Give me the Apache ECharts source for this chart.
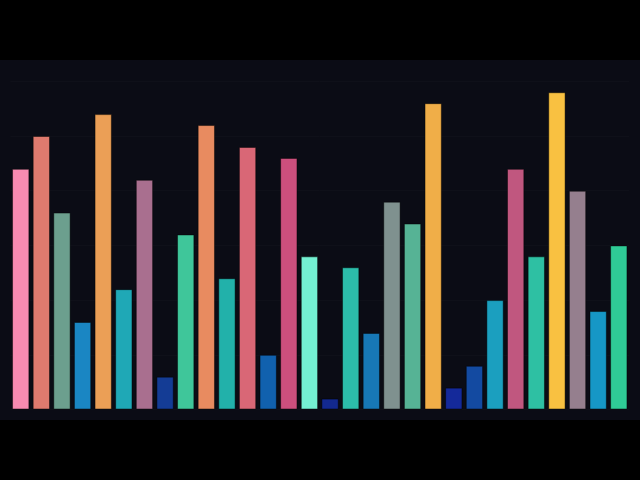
<!DOCTYPE html>
<html>
<head>
<meta charset="utf-8">
<script src="https://cdn.jsdelivr.net/npm/echarts@6/dist/echarts.min.js"></script>
<style>
  html, body { margin: 0; padding: 0; background: #000; }
  #chart { position: absolute; left: 0; top: 60px; width: 640px; height: 360px; }
</style>
</head>
<body>
<div id="chart"></div>
<script>
// values (one bar per slot)
const slots = ['1','2','3','4','5','6','7','8','9','10','11','12','13','14','15',
               '16','17','18','19','20','21','22','23','24','25','26','27','28','29','30'];
const values = [22, 25, 18, 8, 27, 11, 21, 3, 16, 26, 12, 24, 5, 23, 14,
                1, 13, 7, 19, 17, 28, 2, 4, 10, 22, 14, 29, 20, 9, 15];
const barColors = [
  '#f78bb1', '#df7a6e', '#6c9f8e', '#1a86c3', '#eb9f56', '#1fa8b6', '#a96f8f', '#143c95',
  '#3fc69a', '#e88b60', '#22b1aa', '#d96776', '#1161ae', '#cc4f7d', '#74f0d2',
  '#13298f', '#2cbdaa', '#1778b6', '#7f918f', '#56b395', '#f0ae48', '#14299a',
  '#134aa1', '#1b9fbf', '#c0577f', '#2ec0a3', '#f9c141', '#957f8e', '#1697c6', '#2fcb96'
];
const yTicks = [0, 5, 10, 15, 20, 25, 30];

var myChart = echarts.init(document.getElementById('chart'));
const option = {
  backgroundColor: '#0b0c15',
  animation: false,
  grid: { left: 10.4, right: 10.9, top: 21.3, bottom: 10.5 },
  xAxis: {
    type: 'category',
    data: slots,
    axisLine: { show: false },
    axisTick: { show: false },
    axisLabel: { show: false }
  },
  yAxis: {
    type: 'value',
    min: yTicks[0],
    max: yTicks[yTicks.length - 1],
    interval: 5,
    axisLabel: { show: false },
    axisLine: { show: false },
    axisTick: { show: false },
    splitLine: { lineStyle: { color: 'rgba(255,255,255,0.018)', width: 1 } }
  },
  series: [{
    type: 'bar',
    barCategoryGap: '16%',
    data: values.map((v, i) => ({
      value: v,
      itemStyle: { color: barColors[i] }
    })),
    itemStyle: { borderColor: 'rgba(0,0,0,0.45)', borderWidth: 1 }
  }]
};
myChart.setOption(option);
</script>
</body>
</html>
